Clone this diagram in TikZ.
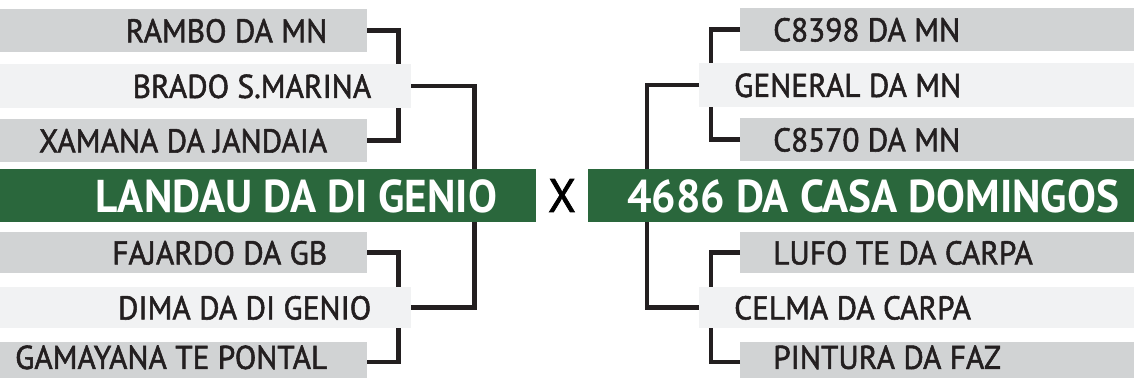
\documentclass[tikz,border=0pt]{standalone}
\usepackage{fontspec}
\setmainfont{PT Sans}[FakeStretch=0.94]
\newfontfamily\medfont{PT Sans}[FakeStretch=0.95,FakeBold=1.6]
\usetikzlibrary{positioning}
\definecolor{ink}{HTML}{231F20}
\definecolor{seed}{HTML}{D1D3D4}
\definecolor{pale}{HTML}{F1F2F3}
\definecolor{turf}{HTML}{2A673C}

\begin{document}
\begin{tikzpicture}[x=1pt,y=-1pt,
  seedbox/.style={fill=seed,inner sep=0,minimum height=43pt,anchor=north west},
  palebox/.style={fill=pale,inner sep=0,minimum height=44pt,anchor=north west},
  turfbox/.style={fill=turf,inner sep=0,minimum height=53pt,anchor=north west},
  nm/.style={font=\medfont\fontsize{33}{33}\selectfont,text=ink,inner sep=0,text depth=0pt},
  big/.style={font=\fontsize{46}{46}\selectfont\bfseries,text=white,inner sep=0,text depth=0pt},
  link/.style={draw=ink,line width=4.5pt}]
  \useasboundingbox[fill=white] (0,0) rectangle (1134,378);
  % left bracket
  \node[seedbox,minimum width=367pt] (a1) at (0,9) {};
  \node[palebox,minimum width=411pt] (a2) at (0,64) {};
  \node[seedbox,minimum width=367pt] (a3) at (0,119) {};
  \node[seedbox,minimum width=367pt,minimum height=41pt] (a4) at (0,232) {};
  \node[palebox,minimum width=411pt,minimum height=41pt] (a5) at (0,287) {};
  \node[seedbox,minimum width=367pt,minimum height=36pt] (a6) at (0,342) {};
  \node[nm,left=40pt of a1.east] {RAMBO DA MN};
  \node[nm,left=40pt of a2.east] {BRADO S.MARINA};
  \node[nm,left=40pt of a3.east] {XAMANA DA JANDAIA};
  \node[nm,left=40pt of a4.east] {FAJARDO DA GB};
  \node[nm,left=40pt of a5.east] {DIMA DA DI GENIO};
  \node[nm,left=40pt of a6.east,yshift=3pt] {GAMAYANA TE PONTAL};
  \draw[link] (a1.east) -| ([xshift=-13pt]a2.north east);
  \draw[link] (a3.east) -| ([xshift=-13pt]a2.south east);
  \draw[link] (a4.east) -| ([xshift=-13pt]a5.north east);
  \draw[link] ([yshift=-2pt]a6.east) -| ([xshift=-13pt]a5.south east);
  \draw[link] (a2.east) -- ++(63,0) |- (a5.east);
  % right bracket
  \node[seedbox,minimum width=394pt] (b1) at (740,8) {};
  \node[palebox,minimum width=435pt] (b2) at (699,63) {};
  \node[seedbox,minimum width=394pt] (b3) at (740,118) {};
  \node[seedbox,minimum width=394pt,minimum height=41pt] (b4) at (740,232) {};
  \node[palebox,minimum width=435pt,minimum height=41pt] (b5) at (699,287) {};
  \node[seedbox,minimum width=394pt,minimum height=36pt] (b6) at (740,342) {};
  \node[nm,right=33pt of b1.west] {C8398 DA MN};
  \node[nm,right=35pt of b2.west] {GENERAL DA MN};
  \node[nm,right=33pt of b3.west] {C8570 DA MN};
  \node[nm,right=33pt of b4.west] {LUFO TE DA CARPA};
  \node[nm,right=35pt of b5.west] {CELMA DA CARPA};
  \node[nm,right=33pt of b6.west,yshift=3pt] {PINTURA DA FAZ};
  \draw[link] (b1.west) -| ([xshift=12pt]b2.north west);
  \draw[link] (b3.west) -| ([xshift=12pt]b2.south west);
  \draw[link] (b4.west) -| ([xshift=12pt]b5.north west);
  \draw[link] ([yshift=-2pt]b6.west) -| ([xshift=12pt]b5.south west);
  \draw[link] (b2.west) -- ++(-52,0) |- (b5.west);
  % finalists
  \node[turfbox,minimum width=536pt] (l0) at (0,169) {};
  \node[turfbox,minimum width=546pt] (r0) at (588,169) {};
  \node[big,left=39pt of l0.east] {LANDAU DA DI GENIO};
  \node[big,right=39pt of r0.west] {4686 DA CASA DOMINGOS};
  \node[font=\medfont\fontsize{47}{47}\selectfont,text=black,inner sep=0] (vs) at (562,195.5) {X};
\end{tikzpicture}
\end{document}
